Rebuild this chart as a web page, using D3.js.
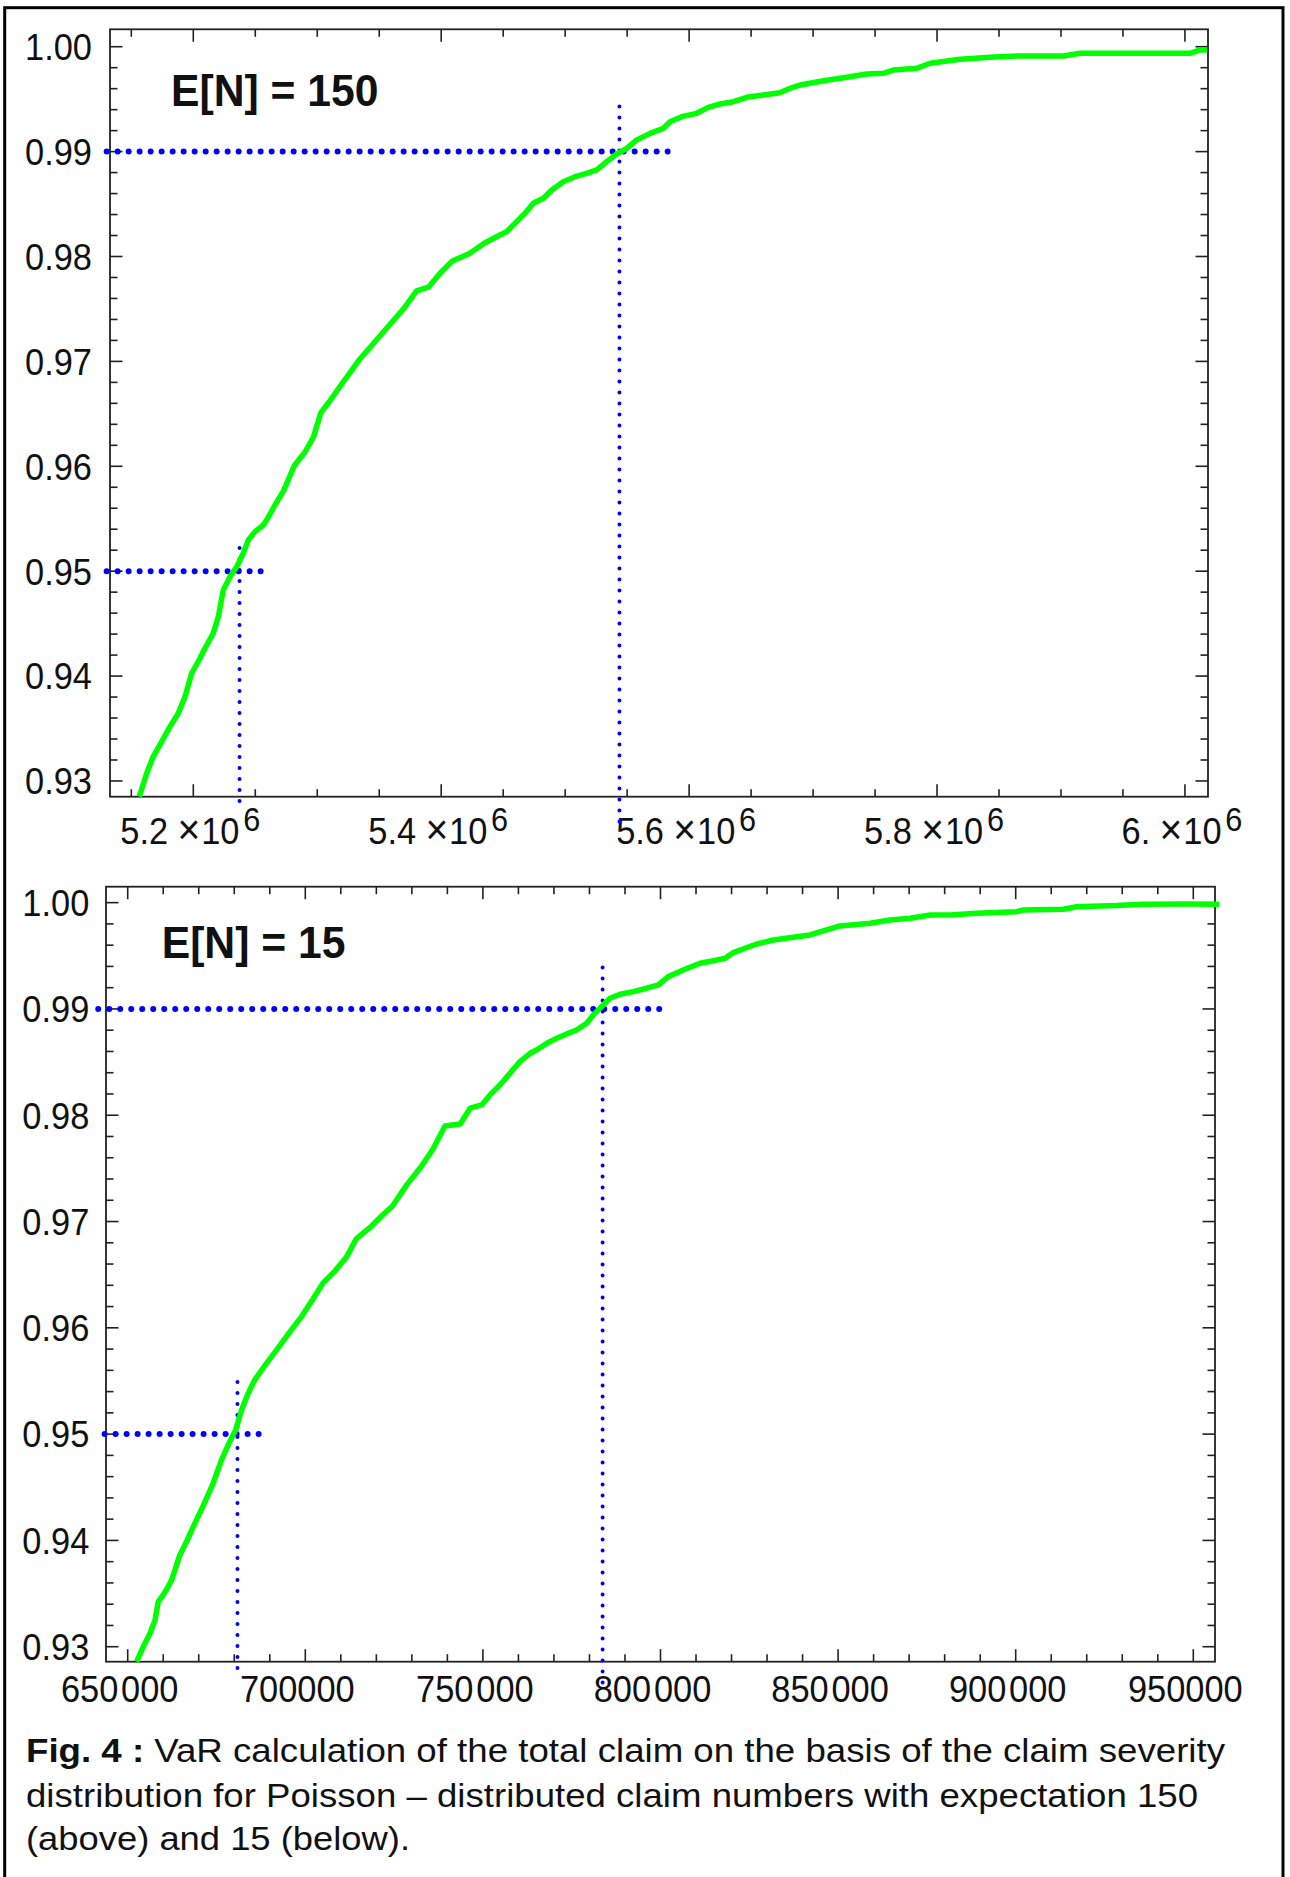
<!DOCTYPE html>
<html>
<head>
<meta charset="utf-8">
<script src="https://cdn.jsdelivr.net/npm/d3@7"></script>
<style>
body { margin: 0; background: #fff; }
text { font-family: "Liberation Sans", Arial, Helvetica, sans-serif; fill: #111; }
</style>
</head>
<body>
<div class="graph"></div>
<script>
// ---- data ----
var yTicks = [0.93, 0.94, 0.95, 0.96, 0.97, 0.98, 0.99, 1.00];
var yLabels = ["0.93", "0.94", "0.95", "0.96", "0.97", "0.98", "0.99", "1.00"];

// upper panel, E[N] = 150
var p1XTicks = [5.2e6, 5.4e6, 5.6e6, 5.8e6, 6.0e6];
var p1XLabels = ["5.2", "5.4", "5.6", "5.8", "6."];
var p1X = [5156400, 5162400, 5167700, 5174500, 5181200, 5187900, 5193300, 5198700, 5205400, 5209400,
    5216100, 5220200, 5224200, 5229600, 5235000, 5240300, 5244400, 5249800, 5256500, 5259200,
    5265900, 5272900, 5281600, 5290100, 5297000, 5302800, 5309500, 5319200, 5333700, 5345300,
    5357900, 5370400, 5380100, 5389700, 5399400, 5409000, 5422400, 5435100, 5447400, 5452800,
    5460900, 5467600, 5474300, 5482400, 5489200, 5498500, 5508000, 5517400, 5525500, 5533500,
    5541600, 5549700, 5557700, 5568500, 5579200, 5584600, 5594000, 5606100, 5615500, 5624900,
    5635700, 5646500, 5659900, 5673300, 5681400, 5689500, 5709700, 5729800, 5743300, 5756700,
    5764800, 5783600, 5794400, 5818600, 5842800, 5864300, 5901900, 5915400, 6004100, 6012200, 6018000];
var p1Y = [0.92850, 0.93073, 0.93232, 0.93375, 0.93518, 0.93645, 0.93803, 0.94027, 0.94170, 0.94265,
    0.94408, 0.94566, 0.94821, 0.94947, 0.95043, 0.95171, 0.95297, 0.95377, 0.95440, 0.95488,
    0.95631, 0.95768, 0.96008, 0.96136, 0.96281, 0.96509, 0.96613, 0.96775, 0.97013, 0.97171,
    0.97342, 0.97513, 0.97673, 0.97707, 0.97845, 0.97958, 0.98027, 0.98129, 0.98205, 0.98236,
    0.98332, 0.98412, 0.98507, 0.98555, 0.98634, 0.98713, 0.98761, 0.98793, 0.98825, 0.98904,
    0.98977, 0.99031, 0.99111, 0.99174, 0.99222, 0.99285, 0.99333, 0.99365, 0.99422, 0.99454,
    0.99476, 0.99518, 0.99540, 0.99561, 0.99603, 0.99635, 0.99678, 0.99714, 0.99740, 0.99746,
    0.99778, 0.99794, 0.99842, 0.99880, 0.99899, 0.99911, 0.99911, 0.99937, 0.99937, 0.99969, 0.99969];
var p1Levels = [0.95, 0.99];
var p1VaR = [5237300, 5543800];
var p1HFrom = [5130100, 5130100];
var p1HTo = [5259200, 5587800];
var p1VFrom = [0.9278, 0.9255];
var p1VTo = [0.9522, 0.9943];

// lower panel, E[N] = 15
var p2XTicks = [650000, 700000, 750000, 800000, 850000, 900000, 950000];
var p2XLabels = ["650 000", "700000", "750 000", "800 000", "850 000", "900 000", "950000"];
var p2X = [652500, 654400, 656300, 657700, 658600, 660000, 661400, 662400, 664600, 666300,
    668600, 671300, 674000, 676400, 678700, 680400, 682100, 683800, 685800, 688900,
    692200, 695900, 699000, 702300, 705000, 708400, 711700, 714400, 718500, 721900,
    724500, 728600, 732600, 736000, 739300, 743600, 746400, 749700, 752000, 754800,
    757200, 760400, 763300, 765100, 768000, 770800, 773600, 776400, 779200, 781100,
    783400, 785800, 788600, 792300, 796100, 799400, 802200, 806400, 811100, 814900,
    818200, 820500, 823800, 827100, 831800, 837400, 842100, 846800, 850500, 859000,
    864600, 870300, 875900, 881500, 889000, 900300, 902100, 913400, 917200, 928400,
    935900, 947200, 955900, 957300];
var p2Y = [0.92860, 0.93001, 0.93127, 0.93252, 0.93424, 0.93487, 0.93566, 0.93629, 0.93857, 0.93970,
    0.94138, 0.94330, 0.94533, 0.94757, 0.94927, 0.95040, 0.95231, 0.95376, 0.95512, 0.95658,
    0.95804, 0.95974, 0.96108, 0.96278, 0.96423, 0.96536, 0.96672, 0.96840, 0.96953, 0.97066,
    0.97144, 0.97347, 0.97516, 0.97685, 0.97899, 0.97918, 0.98066, 0.98097, 0.98191, 0.98285,
    0.98379, 0.98504, 0.98583, 0.98614, 0.98677, 0.98724, 0.98765, 0.98802, 0.98866, 0.98944,
    0.99022, 0.99101, 0.99138, 0.99163, 0.99195, 0.99226, 0.99304, 0.99367, 0.99430, 0.99454,
    0.99477, 0.99530, 0.99571, 0.99611, 0.99649, 0.99675, 0.99696, 0.99743, 0.99781, 0.99806,
    0.99837, 0.99853, 0.99884, 0.99884, 0.99900, 0.99915, 0.99931, 0.99938, 0.99962, 0.99972,
    0.99985, 0.99988, 0.99985, 0.99985];
var p2Levels = [0.95, 0.99];
var p2VaR = [680900, 783700];
var p2HFrom = [643500, 641700];
var p2HTo = [689800, 801700];
var p2VFrom = [0.9273, 0.9260];
var p2VTo = [0.9549, 0.9939];

var captionLines = [
    ["Fig. 4 :", " VaR calculation of the total claim on the basis of the claim severity"],
    ["", "distribution for Poisson \u2013 distributed claim numbers with expectation 150"],
    ["", "(above) and 15 (below)."]
];

// ---- page ----
var W = 1290, H = 1877;
var svg = d3.select('div.graph').append('svg')
    .attr('width', W).attr('height', H);

// outer border (bottom edge is cut off in the original)
svg.append('rect')
    .attr('x', 4.7).attr('y', 7.7)
    .attr('width', 1278.3).attr('height', H + 20)
    .attr('fill', 'none').attr('stroke', '#000').attr('stroke-width', 3);

var green = '#00ff00', blue = '#0000ff', frameCol = '#222';
var labSize = 37, labScale = 0.93;

function drawPanel(p) {
    var x = d3.scaleLinear().domain(p.xDomain).range([p.left, p.right]);
    var y = d3.scaleLinear().domain(p.yDomain).range([p.bottom, p.top]);
    var g = svg.append('g').attr('class', 'panel');

    // tick marks on all four sides, pointing inward
    var xMinor = d3.range(Math.ceil(p.xDomain[0] / p.xStep), Math.floor(p.xDomain[1] / p.xStep) + 1);
    var yMinor = d3.range(Math.ceil(p.yDomain[0] / 0.002 - 1e-6), Math.floor(p.yDomain[1] / 0.002 + 1e-6) + 1);
    var ticks = g.append('g')
        .attr('stroke', frameCol).attr('stroke-width', 1.6);
    xMinor.forEach(function(i){
        var len = (i % p.xEvery == 0) ? 12.5 : 7.5;
        var px = x(i * p.xStep);
        ticks.append('line').attr('x1', px).attr('x2', px).attr('y1', p.bottom).attr('y2', p.bottom - len);
        ticks.append('line').attr('x1', px).attr('x2', px).attr('y1', p.top).attr('y2', p.top + len);
    });
    yMinor.forEach(function(i){
        var len = (i % 5 == 0) ? 12.5 : 7.5;
        var py = y(i * 0.002);
        ticks.append('line').attr('y1', py).attr('y2', py).attr('x1', p.left).attr('x2', p.left + len);
        ticks.append('line').attr('y1', py).attr('y2', py).attr('x1', p.right).attr('x2', p.right - len);
    });

    // frame
    g.append('rect')
        .attr('x', p.left).attr('y', p.top)
        .attr('width', p.right - p.left).attr('height', p.bottom - p.top)
        .attr('fill', 'none').attr('stroke', frameCol).attr('stroke-width', 1.8);

    // y tick labels
    g.selectAll('.ylab')
        .data(yTicks)
        .enter().append('text')
        .attr('class', 'ylab')
        .attr('transform', function(d){ return 'translate(' + [p.left - p.yLabGap, y(d)] + ') scale(' + labScale + ',1)'; })
        .attr('text-anchor', 'end')
        .attr('dy', '0.36em')
        .attr('font-size', labSize)
        .text(function(d, i){ return yLabels[i]; });

    // x tick labels
    var xl = g.selectAll('.xlab')
        .data(p.xTicks)
        .enter().append('text')
        .attr('class', 'xlab')
        .attr('transform', function(d){ return 'translate(' + [x(d) + p.xLabDx, p.bottom + p.xLabDy] + ') scale(' + labScale + ',1)'; })
        .attr('text-anchor', 'middle')
        .attr('font-size', labSize);
    if (p.sci) {
        xl.append('tspan').text(function(d, i){ return p.xLabels[i]; });
        xl.append('tspan').attr('dx', 10).attr('font-size', 42).text('\u00d7');
        xl.append('tspan').attr('dx', 1).text('10');
        xl.append('tspan').attr('dx', 4).attr('dy', -13).attr('font-size', 33).text('6');
    } else {
        // digit groups with a narrow gap
        xl.each(function(d, i){
            var parts = p.xLabels[i].split(' ');
            var t = d3.select(this);
            parts.forEach(function(s, k){
                t.append('tspan').attr('dx', k ? 3 : 0).text(s);
            });
        });
    }

    // value-at-risk guide lines
    p.levels.forEach(function(lv, i){
        g.append('line')
            .attr('x1', x(p.hFrom[i])).attr('x2', x(p.hTo[i]))
            .attr('y1', y(lv)).attr('y2', y(lv))
            .attr('stroke', blue).attr('stroke-width', 6)
            .attr('stroke-linecap', 'round').attr('stroke-dasharray', '0 11');
        g.append('line')
            .attr('x1', x(p.vaR[i])).attr('x2', x(p.vaR[i]))
            .attr('y1', y(p.vTo[i])).attr('y2', y(p.vFrom[i]))
            .attr('stroke', blue).attr('stroke-width', 4)
            .attr('stroke-linecap', 'round').attr('stroke-dasharray', '0 11');
    });

    // empirical distribution curve
    var pts = p.xs.map(function(d, i){ return [d, p.ys[i]]; });
    var line = d3.line()
        .x(function(d){ return x(d[0]); })
        .y(function(d){ return y(d[1]); });
    g.append('path')
        .datum(pts)
        .attr('d', line)
        .attr('fill', 'none').attr('stroke', green)
        .attr('stroke-width', 5.5).attr('stroke-linejoin', 'round');

    // panel title
    g.append('text')
        .attr('transform', 'translate(' + [p.titleX, p.titleY] + ') scale(0.97,1)')
        .attr('font-size', 44).attr('font-weight', 'bold')
        .text(p.title);
}

drawPanel({
    left: 110, right: 1208, top: 29.3, bottom: 796.7,
    xDomain: [5132800, 6018600], yDomain: [0.92850, 1.00166],
    xStep: 50000, xEvery: 4,
    xTicks: p1XTicks, xLabels: p1XLabels, sci: true,
    xLabDx: -3, xLabDy: 47.3, yLabGap: 18,
    xs: p1X, ys: p1Y,
    levels: p1Levels, vaR: p1VaR, hFrom: p1HFrom, hTo: p1HTo, vFrom: p1VFrom, vTo: p1VTo,
    title: 'E[N] = 150', titleX: 171, titleY: 106
});

drawPanel({
    left: 106, right: 1215, top: 886.7, bottom: 1661.7,
    xDomain: [643890, 956110], yDomain: [0.92859, 1.00150],
    xStep: 10000, xEvery: 5,
    xTicks: p2XTicks, xLabels: p2XLabels, sci: false,
    xLabDx: -8, xLabDy: 40, yLabGap: 16.7,
    xs: p2X, ys: p2Y,
    levels: p2Levels, vaR: p2VaR, hFrom: p2HFrom, hTo: p2HTo, vFrom: p2VFrom, vTo: p2VTo,
    title: 'E[N] = 15', titleX: 161.7, titleY: 958.3
});

// caption
var capWidths = [1199, 1172, 384];
var capY = [1762, 1806.5, 1850];
captionLines.forEach(function(ln, i){
    var t = svg.append('text')
        .attr('x', 26).attr('y', capY[i])
        .attr('font-size', 34)
        .attr('textLength', capWidths[i])
        .attr('lengthAdjust', 'spacingAndGlyphs');
    if (ln[0]) t.append('tspan').attr('font-weight', 'bold').text(ln[0]);
    t.append('tspan').text(ln[1]);
});
</script>
</body>
</html>
